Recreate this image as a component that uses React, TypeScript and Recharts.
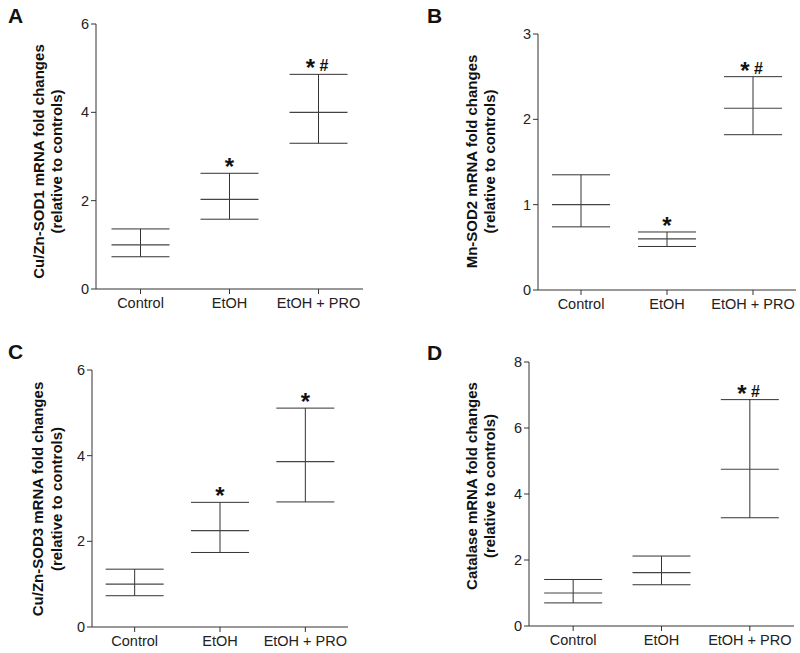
import { ComposedChart, Scatter, XAxis, YAxis, ErrorBar, Label } from "recharts";

const categories = ["Control", "EtOH", "EtOH + PRO"];

// panel A: Cu/Zn-SOD1
const sod1Mean = [1.0, 2.03, 4.0];
const sod1Low = [0.73, 1.58, 3.3];
const sod1High = [1.36, 2.62, 4.86];
const sod1Marks = ["", "*", "* #"];

// panel B: Mn-SOD2
const sod2Mean = [1.0, 0.6, 2.13];
const sod2Low = [0.74, 0.51, 1.82];
const sod2High = [1.35, 0.68, 2.5];
const sod2Marks = ["", "*", "* #"];

// panel C: Cu/Zn-SOD3
const sod3Mean = [1.0, 2.25, 3.86];
const sod3Low = [0.73, 1.74, 2.92];
const sod3High = [1.35, 2.91, 5.11];
const sod3Marks = ["", "*", "*"];

// panel D: Catalase
const catMean = [1.0, 1.62, 4.75];
const catLow = [0.7, 1.25, 3.28];
const catHigh = [1.41, 2.12, 6.86];
const catMarks = ["", "", "* #"];

const ticksA = [0, 2, 4, 6];
const ticksB = [0, 1, 2, 3];
const ticksC = [0, 2, 4, 6];
const ticksD = [0, 2, 4, 6, 8];

const FONT = "Arial, 'Liberation Sans', Helvetica, sans-serif";
const INK = "#333";

function buildRows(mean: number[], low: number[], high: number[], marks: string[]) {
    return categories.map((name, i) => ({
        name,
        mean: mean[i],
        high: high[i],
        err: [mean[i] - low[i], high[i] - mean[i]],
        mark: marks[i],
    }));
}

const meanLine = (w: number) => (p: any) => {
    if (p.cx == null || p.cy == null) return <g />;
    return <line x1={p.cx - w / 2} x2={p.cx + w / 2} y1={p.cy} y2={p.cy} stroke="#444" strokeWidth={1.2} />;
};

const markText = (p: any) => {
    const mark: string = p.payload?.mark || "";
    if (!mark || p.cx == null) return <g />;
    const parts = mark.split(" ");
    const offsets = parts.length === 2 ? [-8, 5.5] : [0];
    return (
        <g>
            {parts.map((t, i) => (
                <text
                    key={i}
                    x={p.cx + offsets[i]}
                    y={t === "*" ? p.cy + 2 : p.cy - 3}
                    textAnchor="middle"
                    fontFamily={FONT}
                    fontWeight="bold"
                    fontSize={t === "*" ? 24 : 16}
                    fill="#111"
                >
                    {t}
                </text>
            ))}
        </g>
    );
};

interface PanelProps {
    letter: string;
    letterPos: [number, number];
    left: number;
    top: number;
    height: number;
    margin: { top: number; right: number; bottom: number; left: number };
    yWidth: number;
    xHeight: number;
    domain: [number, number];
    ticks: number[];
    labelLines: [string, string];
    labelPos: [number, number, number];
    rows: any[];
}

function Panel(props: PanelProps) {
    const { letter, letterPos, left, top, height, margin, yWidth, xHeight, domain, ticks, labelLines, labelPos, rows } = props;
    const [x1, x2, cy] = labelPos;
    const yLabel = () => (
        <g fontFamily={FONT} fontWeight="bold" fontSize={15} fill="#111">
            <text x={x1} y={cy} transform={`rotate(-90 ${x1} ${cy})`} textAnchor="middle" dominantBaseline="central">
                {labelLines[0]}
            </text>
            <text x={x2} y={cy} transform={`rotate(-90 ${x2} ${cy})`} textAnchor="middle" dominantBaseline="central">
                {labelLines[1]}
            </text>
        </g>
    );
    return (
        <div style={{ position: "absolute", left, top, width: 400, height }}>
            <div
                style={{
                    position: "absolute",
                    left: letterPos[0],
                    top: letterPos[1],
                    fontFamily: FONT,
                    fontWeight: "bold",
                    fontSize: 21,
                    lineHeight: 1,
                    color: "#111",
                }}
            >
                {letter}
            </div>
            <ComposedChart width={400} height={height} data={rows} margin={margin}>
                <XAxis
                    dataKey="name"
                    type="category"
                    scale="band"
                    interval={0}
                    height={xHeight}
                    stroke={INK}
                    tickSize={5}
                    tickMargin={4}
                    tick={{ fontFamily: FONT, fontSize: 14.5, fill: "#222" }}
                />
                <YAxis
                    type="number"
                    domain={domain}
                    ticks={ticks}
                    interval={0}
                    width={yWidth}
                    stroke={INK}
                    tickSize={5}
                    tick={{ fontFamily: FONT, fontSize: 14.5, fill: "#222" }}
                    label={<Label content={yLabel} />}
                />
                <Scatter dataKey="mean" shape={meanLine(58)} isAnimationActive={false}>
                    <ErrorBar dataKey="err" direction="y" width={29} stroke={INK} strokeWidth={1} isAnimationActive={false} />
                </Scatter>
                <Scatter dataKey="high" shape={markText} isAnimationActive={false} />
            </ComposedChart>
        </div>
    );
}

export default function App() {
    return (
        <div style={{ position: "absolute", left: 0, top: 0, width: 800, height: 653, background: "#fff" }}>
            <Panel
                letter="A"
                letterPos={[8, 5]}
                left={0}
                top={0}
                height={325}
                margin={{ top: 24, right: 37, bottom: 6, left: 0 }}
                yWidth={96}
                xHeight={30}
                domain={[0, 6]}
                ticks={ticksA}
                labelLines={["Cu/Zn-SOD1 mRNA fold changes", "(relative to controls)"]}
                labelPos={[38, 56, 161.5]}
                rows={buildRows(sod1Mean, sod1Low, sod1High, sod1Marks)}
            />
            <Panel
                letter="B"
                letterPos={[27, 5]}
                left={400}
                top={0}
                height={325}
                margin={{ top: 34, right: 4, bottom: 5, left: 0 }}
                yWidth={138}
                xHeight={30}
                domain={[0, 3]}
                ticks={ticksB}
                labelLines={["Mn-SOD2 mRNA fold changes", "(relative to controls)"]}
                labelPos={[71, 89, 161.5]}
                rows={buildRows(sod2Mean, sod2Low, sod2High, sod2Marks)}
            />
            <Panel
                letter="C"
                letterPos={[8, 11]}
                left={0}
                top={330}
                height={323}
                margin={{ top: 40, right: 52, bottom: 0, left: 0 }}
                yWidth={92}
                xHeight={26}
                domain={[0, 6]}
                ticks={ticksC}
                labelLines={["Cu/Zn-SOD3 mRNA fold changes", "(relative to controls)"]}
                labelPos={[37.5, 56, 169]}
                rows={buildRows(sod3Mean, sod3Low, sod3High, sod3Marks)}
            />
            <Panel
                letter="D"
                letterPos={[27, 12]}
                left={400}
                top={330}
                height={323}
                margin={{ top: 32, right: 6, bottom: 1, left: 0 }}
                yWidth={129}
                xHeight={26}
                domain={[0, 8]}
                ticks={ticksD}
                labelLines={["Catalase mRNA fold changes", "(relative to controls)"]}
                labelPos={[71, 89, 156]}
                rows={buildRows(catMean, catLow, catHigh, catMarks)}
            />
        </div>
    );
}
